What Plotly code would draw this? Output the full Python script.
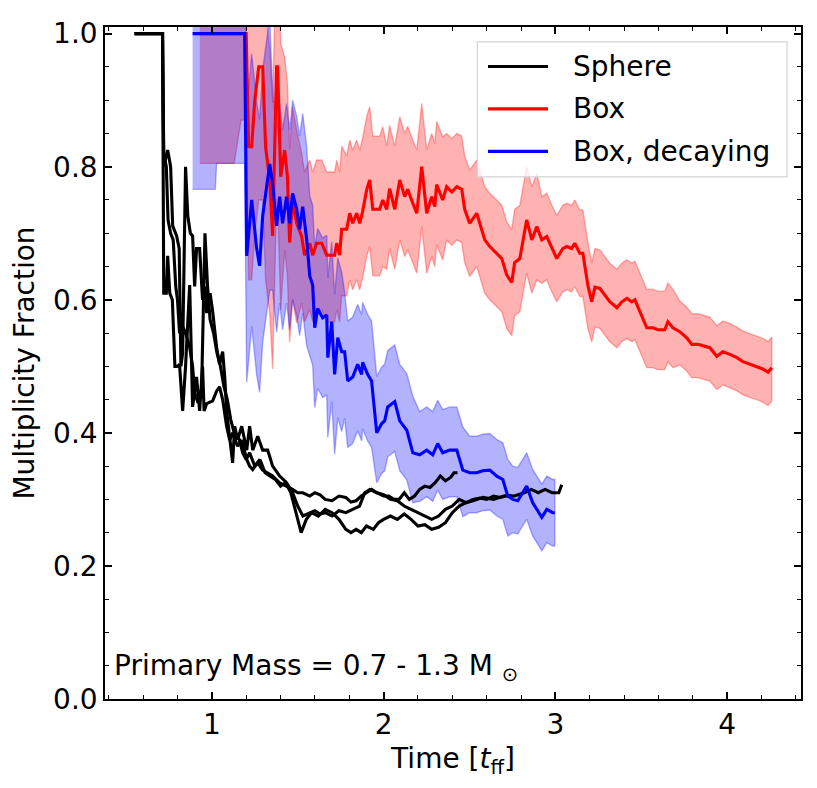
import plotly.graph_objects as go

# --- Sphere runs (three realisations) ---
sphere_a_x = [0.55, 0.713, 0.72, 0.735, 0.743, 0.755, 0.77, 0.785, 0.80, 0.812,
              0.83, 0.847, 0.871, 0.888, 0.911, 0.929, 0.946, 0.955, 0.97, 1.005,
              1.028, 1.045, 1.063, 1.086, 1.104, 1.121, 1.15, 1.174, 1.203, 1.22,
              1.238, 1.267, 1.296, 1.325, 1.354, 1.395, 1.435, 1.47,
              1.50, 1.53, 1.57, 1.60, 1.63, 1.66, 1.70, 1.74, 1.78, 1.81,
              1.84, 1.87, 1.90, 1.93, 1.96, 2.00, 2.03, 2.06, 2.09, 2.12,
              2.15, 2.18, 2.21, 2.24, 2.27, 2.30, 2.33, 2.36, 2.39, 2.41, 2.43]
sphere_a_y = [1.0, 1.0, 0.61, 0.61, 0.666, 0.61, 0.60, 0.50, 0.50, 0.503,
              0.433, 0.50, 0.622, 0.439, 0.484, 0.433, 0.50, 0.433, 0.444, 0.448,
              0.463, 0.469, 0.45, 0.41, 0.389, 0.40, 0.38, 0.389, 0.36, 0.35,
              0.345, 0.355, 0.344, 0.34, 0.335, 0.325, 0.32, 0.315,
              0.31, 0.31, 0.305, 0.31, 0.307, 0.30, 0.298, 0.305, 0.303, 0.296,
              0.298, 0.305, 0.31, 0.315, 0.31, 0.305, 0.305, 0.30, 0.30, 0.31,
              0.30, 0.305, 0.315, 0.32, 0.318, 0.325, 0.335, 0.328, 0.333, 0.34, 0.34]

sphere_b_x = [0.55, 0.713, 0.72, 0.743, 0.76, 0.772, 0.795, 0.81, 0.82, 0.83,
              0.847, 0.86, 0.875, 0.888, 0.90, 0.911, 0.929, 0.946, 0.96, 0.97,
              0.99, 1.005, 1.028, 1.045, 1.063, 1.075, 1.086, 1.104, 1.121, 1.133,
              1.15, 1.174, 1.203, 1.22, 1.238, 1.267, 1.296, 1.325, 1.354, 1.395,
              1.435, 1.47,
              1.50, 1.53, 1.57, 1.60, 1.63, 1.66, 1.70, 1.74, 1.78, 1.82,
              1.86, 1.89, 1.92, 1.96, 2.00, 2.04, 2.08, 2.12, 2.16, 2.20,
              2.24, 2.28, 2.32, 2.36, 2.40, 2.44, 2.48, 2.52, 2.56, 2.60,
              2.64, 2.68, 2.72, 2.75]
sphere_b_y = [1.0, 1.0, 0.80, 0.825, 0.80, 0.711, 0.696, 0.677, 0.50, 0.52,
              0.80, 0.726, 0.70, 0.696, 0.62, 0.677, 0.677, 0.60, 0.62, 0.58,
              0.61, 0.582, 0.528, 0.503, 0.522, 0.484, 0.433, 0.389, 0.355, 0.41,
              0.39, 0.41, 0.374, 0.41, 0.374, 0.395, 0.374, 0.374, 0.35, 0.335,
              0.325, 0.31,
              0.29, 0.275, 0.28, 0.283, 0.278, 0.28, 0.275, 0.283, 0.28, 0.285,
              0.29, 0.31, 0.315, 0.31, 0.307, 0.30, 0.298, 0.29, 0.285, 0.28,
              0.275, 0.27, 0.275, 0.285, 0.29, 0.30, 0.295, 0.30, 0.302, 0.30,
              0.305, 0.303, 0.306, 0.305]

sphere_c_x = [0.55, 0.713, 0.72, 0.735, 0.745, 0.76, 0.775, 0.79, 0.80, 0.812,
              0.83, 0.847, 0.87, 0.888, 0.90, 0.92, 0.94, 0.96, 0.975, 0.99,
              1.01, 1.03, 1.05, 1.07, 1.09, 1.11, 1.13, 1.16, 1.18, 1.20,
              1.22, 1.25, 1.28, 1.31, 1.34, 1.37, 1.40, 1.43, 1.46,
              1.50, 1.52, 1.55, 1.58, 1.62, 1.66, 1.70, 1.74, 1.78, 1.81,
              1.84, 1.87, 1.90, 1.94, 1.97, 2.00, 2.04, 2.08, 2.12, 2.16,
              2.20, 2.24, 2.28, 2.32, 2.36, 2.40, 2.44, 2.48, 2.52, 2.58,
              2.64, 2.70, 2.76, 2.82, 2.86, 2.90, 2.94, 2.98, 3.02, 3.037]
sphere_c_y = [1.0, 1.0, 0.82, 0.80, 0.72, 0.70, 0.69, 0.62, 0.60, 0.55,
              0.56, 0.55, 0.53, 0.50, 0.46, 0.445, 0.46, 0.70, 0.62, 0.57,
              0.55, 0.52, 0.50, 0.47, 0.45, 0.42, 0.40, 0.39, 0.37, 0.36,
              0.37, 0.35, 0.36, 0.34, 0.335, 0.33, 0.32, 0.325, 0.31,
              0.27, 0.25, 0.27, 0.28, 0.275, 0.285, 0.28, 0.27, 0.255, 0.25,
              0.255, 0.25, 0.26, 0.255, 0.265, 0.27, 0.275, 0.27, 0.278, 0.27,
              0.26, 0.262, 0.255, 0.258, 0.265, 0.28, 0.29, 0.295, 0.298, 0.303,
              0.30, 0.305, 0.305, 0.31, 0.315, 0.31, 0.315, 0.31, 0.31, 0.322]

# --- Box (median with upper / lower spread) ---
box_x = [0.93, 1.13, 1.17, 1.2,
         1.214, 1.232, 1.25, 1.273, 1.296, 1.313, 1.337, 1.354, 1.377, 1.383, 1.401,
         1.424, 1.44, 1.453, 1.47, 1.494,
         1.523, 1.54, 1.57, 1.587, 1.61, 1.64, 1.669, 1.715, 1.727, 1.744, 1.756,
         1.785, 1.803, 1.82, 1.843, 1.861, 1.878, 1.902, 1.919, 1.937, 1.977, 1.995,
         2.018, 2.035, 2.065, 2.094, 2.123, 2.14, 2.17, 2.193, 2.222, 2.251, 2.28, 2.298, 2.309, 2.344,
         2.367, 2.397, 2.426, 2.455, 2.472, 2.501, 2.542, 2.56, 2.589, 2.618,
         2.635, 2.659, 2.688, 2.717, 2.746, 2.763, 2.793, 2.833, 2.863, 2.892,
         2.921, 2.95, 2.979, 3.008, 3.043, 3.066, 3.095, 3.113, 3.142, 3.16, 3.189,
         3.212, 3.23, 3.259, 3.288, 3.317, 3.358, 3.387, 3.416, 3.445, 3.463,
         3.492, 3.532, 3.567, 3.596, 3.637, 3.655, 3.684,
         3.725, 3.765, 3.794, 3.829, 3.87, 3.899, 3.94, 3.975, 4.016, 4.057,
         4.092, 4.133, 4.173, 4.208, 4.238, 4.26]
box_y = [1.0, 1.0, 1.0, 1.0,
         0.83, 0.83, 0.90, 0.95, 0.95, 0.83, 0.78, 0.696, 0.95, 0.95, 0.785,
         0.825, 0.785, 0.686, 0.75, 0.715,
         0.695, 0.667, 0.685, 0.667, 0.685, 0.685, 0.667, 0.667, 0.685, 0.667, 0.706,
         0.706, 0.73, 0.715, 0.73, 0.715, 0.733, 0.766, 0.78, 0.736, 0.736, 0.75,
         0.736, 0.767, 0.736, 0.78, 0.755, 0.766, 0.745, 0.73, 0.80, 0.73, 0.755, 0.74, 0.773, 0.75,
         0.77, 0.762, 0.77, 0.766, 0.736, 0.715, 0.73, 0.714, 0.69, 0.68,
         0.676, 0.67, 0.662, 0.637, 0.626, 0.656, 0.662, 0.72, 0.69, 0.71,
         0.69, 0.695, 0.677, 0.662, 0.677, 0.68, 0.677, 0.685, 0.67, 0.67, 0.622,
         0.597, 0.619, 0.617, 0.607, 0.597, 0.588, 0.597, 0.602, 0.597, 0.60,
         0.582, 0.558, 0.558, 0.555, 0.555, 0.567, 0.558,
         0.552, 0.543, 0.533, 0.533, 0.53, 0.528, 0.515, 0.522, 0.518, 0.513,
         0.507, 0.503, 0.50, 0.496, 0.491, 0.498]
box_err_hi = ([0.20] * 4 + [0.20] * 11 + [0.14] * 5 + [0.125] * 11 + [0.11] * 11
              + [0.095] * 14 + [0.08] * 20 + [0.065] * 11 + [0.058] * 17 + [0.046] * 16)
box_err_lo = ([0.195, 0.195, 0.13, 0.13] + [0.20] * 11 + [0.15] * 5 + [0.10] * 11
              + [0.10] * 11 + [0.09] * 14 + [0.08] * 20 + [0.065] * 11 + [0.06] * 17
              + [0.05] * 16)

# --- Box, decaying ---
decay_x = [0.888, 1.02, 1.028, 1.191,
           1.203, 1.232, 1.261, 1.278, 1.296, 1.319, 1.337,
           1.354, 1.377, 1.395, 1.412, 1.435, 1.453, 1.47, 1.494, 1.511, 1.529, 1.552,
           1.57, 1.587, 1.599, 1.616, 1.645, 1.669, 1.675, 1.698, 1.715, 1.733, 1.756,
           1.773, 1.791, 1.82, 1.849, 1.872, 1.878, 1.907, 1.93,
           1.96, 1.989, 2.006, 2.024, 2.065, 2.094, 2.135, 2.17,
           2.21, 2.251, 2.286, 2.315, 2.344, 2.385, 2.426, 2.461,
           2.501, 2.542, 2.577, 2.618, 2.659, 2.694, 2.723,
           2.752, 2.781, 2.81, 2.833, 2.868, 2.892, 2.921, 2.95, 2.985, 2.997]
decay_y = [1.0, 1.0, 1.0, 1.0,
           0.666, 0.75, 0.677, 0.651, 0.726, 0.766, 0.804,
           0.775, 0.711, 0.755, 0.715, 0.755, 0.715, 0.76, 0.736, 0.706, 0.74, 0.691,
           0.636, 0.622, 0.558, 0.587, 0.573, 0.577, 0.513, 0.567, 0.488, 0.543, 0.522,
           0.522, 0.478, 0.484, 0.503, 0.488, 0.506, 0.488, 0.478,
           0.40, 0.414, 0.418, 0.439, 0.447, 0.418, 0.404, 0.37,
           0.367, 0.374, 0.367, 0.384, 0.37, 0.374, 0.374, 0.344,
           0.34, 0.34, 0.343, 0.344, 0.335, 0.33, 0.305,
           0.30, 0.298, 0.31, 0.32, 0.295, 0.285, 0.273, 0.285, 0.28, 0.28]
decay_err_hi = ([0.20] * 4 + [0.22] * 7 + [0.14] * 11 + [0.12] * 11 + [0.09] * 8
                + [0.085] * 8 + [0.065] * 8 + [0.055] * 7 + [0.05] * 10)
decay_err_lo = ([0.234, 0.234, 0.195, 0.195] + [0.19] * 7 + [0.16] * 11 + [0.12] * 11
                + [0.10] * 8 + [0.075] * 8 + [0.07] * 8 + [0.06] * 7 + [0.05] * 10)

assert len(box_x) == len(box_y) == len(box_err_hi) == len(box_err_lo)
assert len(decay_x) == len(decay_y) == len(decay_err_hi) == len(decay_err_lo)

legend_names = ["Sphere", "Box", "Box, decaying"]
legend_colors = ["black", "red", "blue"]

FONT = "DejaVu Sans"
LW = 3.1


def band_polygon(x, y, hi, lo):
    upper = [v + e for v, e in zip(y, hi)]
    lower = [v - e for v, e in zip(y, lo)]
    return x + x[::-1], upper + lower[::-1]


fig = go.Figure()

# spread bands first (matplotlib fill_between, alpha 0.3)
for x, y, hi, lo, rgb in [(box_x, box_y, box_err_hi, box_err_lo, "255,0,0"),
                          (decay_x, decay_y, decay_err_hi, decay_err_lo, "0,0,255")]:
    px, py = band_polygon(x, y, hi, lo)
    fig.add_trace(go.Scatter(x=px, y=py, mode="lines", fill="toself",
                             fillcolor=f"rgba({rgb},0.3)",
                             line=dict(color=f"rgba({rgb},0.3)", width=1.4),
                             showlegend=False, hoverinfo="skip"))

for x, y in [(sphere_a_x, sphere_a_y), (sphere_b_x, sphere_b_y), (sphere_c_x, sphere_c_y)]:
    fig.add_trace(go.Scatter(x=x, y=y, mode="lines", line=dict(color="black", width=LW),
                             showlegend=False))

fig.add_trace(go.Scatter(x=box_x, y=box_y, mode="lines", line=dict(color="red", width=LW),
                         showlegend=False))
fig.add_trace(go.Scatter(x=decay_x, y=decay_y, mode="lines", line=dict(color="blue", width=LW),
                         showlegend=False))

# hand-built legend box, matplotlib style
shapes = [dict(type="rect", xref="paper", yref="paper", x0=0.535, x1=0.98, y0=0.777, y1=0.978,
               line=dict(color="#d4d4d4", width=1.2), fillcolor="rgba(255,255,255,0.8)", layer="above")]
annotations = []
for i, (name, col) in enumerate(zip(legend_names, legend_colors)):
    yy = 0.9413 - i * 0.0632
    shapes.append(dict(type="line", xref="paper", yref="paper", x0=0.5503, x1=0.6365, y0=yy, y1=yy,
                       line=dict(color=col, width=LW), layer="above"))
    annotations.append(dict(xref="paper", yref="paper", x=0.669, y=yy, text=name, showarrow=False,
                            xanchor="left", yanchor="middle", font=dict(size=28, color="black")))

annotations.append(dict(xref="paper", yref="paper", x=0.0105, y=0.047,
                        text="Primary Mass = 0.7 - 1.3 M <sub>⊙</sub>", showarrow=False,
                        xanchor="left", yanchor="middle", font=dict(size=28, color="black")))

axis_common = dict(showline=True, linecolor="black", linewidth=1.6, mirror="ticks",
                   ticks="inside", ticklen=7, tickwidth=1.5, tickcolor="black",
                   showgrid=False, zeroline=False, tickfont=dict(size=28, color="black"))

fig.update_xaxes(range=[0.378, 4.43], tick0=0, dtick=1,
                 minor=dict(dtick=0.2, ticks="inside", ticklen=4, tickwidth=1.1, tickcolor="black",
                            showgrid=False),
                 title=dict(text="Time [<i>t</i><sub>ff</sub>]", font=dict(size=28, color="black"),
                            standoff=8),
                 **axis_common)
fig.update_yaxes(range=[0, 1.01], tick0=0, dtick=0.2, tickformat=".1f",
                 minor=dict(dtick=0.05, ticks="inside", ticklen=4, tickwidth=1.1, tickcolor="black",
                            showgrid=False),
                 title=dict(text="Multiplicity Fraction", font=dict(size=28, color="black"),
                            standoff=10),
                 **axis_common)

# the page body adds an 8 px offset at top/left, so the figure is 8 px smaller
fig.update_layout(width=809, height=780, margin=dict(l=97, r=16, t=10, b=89),
                  plot_bgcolor="white", paper_bgcolor="white",
                  font=dict(family=FONT, size=28, color="black"),
                  shapes=shapes, annotations=annotations, showlegend=False)

fig.write_html("out.html")
